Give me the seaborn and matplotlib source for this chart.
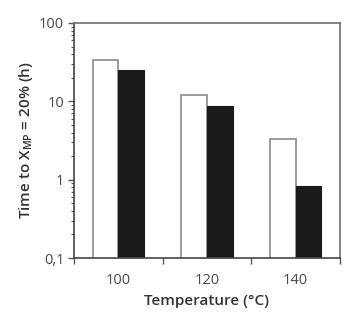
import matplotlib
matplotlib.use("Agg")
import matplotlib.pyplot as plt
import seaborn as sns
import pandas as pd
import numpy as np
from matplotlib.ticker import FixedLocator, LogLocator, NullFormatter, FuncFormatter

temperatures = ["100", "120", "140"]
series = ["open", "filled"]
open_values = [33.8, 11.9, 3.33]
filled_values = [25.2, 8.8, 0.84]

df = pd.DataFrame({
    "Temperature": temperatures * 2,
    "series": [series[0]] * 3 + [series[1]] * 3,
    "time": open_values + filled_values,
})

sns.set_style("white")
plt.rcParams['font.family'] = ['Open Sans', 'DejaVu Sans']

fig = plt.figure(figsize=(3.49, 3.19), dpi=100)
ax = fig.add_axes([0.212, 0.191, 0.762, 0.737])
ax.set_yscale('log')

sns.barplot(data=df, x="Temperature", y="time", hue="series", order=temperatures,
            hue_order=series, palette=["white", "#1a1a1a"], width=0.58,
            legend=False, ax=ax, saturation=1)

# edge colours per series
n = len(temperatures)
for i, p in enumerate(ax.patches[:2 * n]):
    if i < n:
        p.set_edgecolor("#8a8a8a")
        p.set_linewidth(1.2)
    else:
        p.set_edgecolor("#1a1a1a")
        p.set_linewidth(0.8)

ax.set_ylim(0.1, 100)
ax.set_xlim(-0.5, 2.5)

ax.yaxis.set_major_locator(LogLocator(base=10))
ax.yaxis.set_minor_locator(LogLocator(base=10, subs=np.arange(2, 10)))
ax.yaxis.set_minor_formatter(NullFormatter())
ax.yaxis.set_major_formatter(FuncFormatter(lambda v, _: ("%g" % v).replace(".", ",")))

# category boundaries as ticks, labels centred
ax.xaxis.set_major_locator(FixedLocator([-0.5, 0.5, 1.5, 2.5]))
ax.xaxis.set_minor_locator(FixedLocator([0, 1, 2]))
ax.set_xticklabels([], minor=False)
ax.set_xticklabels(temperatures, minor=True)

ax.tick_params(axis='x', which='major', direction='out', length=4, width=1, color='#555555', bottom=True)
ax.tick_params(axis='x', which='minor', length=0, labelsize=10.5, labelcolor='#4a4a4a', pad=11)
ax.tick_params(axis='y', which='major', direction='out', length=4, width=1, color='#555555', left=True,
               labelsize=10.5, labelcolor='#4a4a4a', pad=3)
ax.tick_params(axis='y', which='minor', direction='out', length=2.5, width=0.8, color='#555555', left=True)

for s in ax.spines.values():
    s.set_color('#6e6e6e')
    s.set_linewidth(1.2)
    s.set_visible(True)
ax.spines['left'].set_color('#444444')
ax.spines['bottom'].set_color('#444444')

ax.set_xlabel("Temperature (°C)", fontsize=11, fontweight='semibold', color='#333333', labelpad=4)
ax.set_ylabel(r"Time to X$_{\mathregular{MP}}$ = 20% (h)", fontsize=11, fontweight='semibold',
              color='#333333', labelpad=3)

fig.savefig("out.png", dpi=100)
